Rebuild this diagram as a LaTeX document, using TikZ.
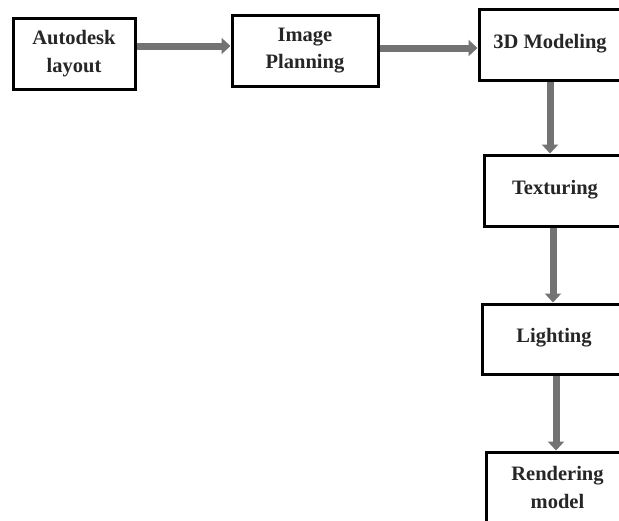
\documentclass[tikz,border=0pt]{standalone}
\usepackage{fontspec}
\setmainfont{Liberation Serif}
\usepackage{tikz}
\usetikzlibrary{arrows.meta,positioning}

\begin{document}
\begin{tikzpicture}[x=1pt,y=-1pt,
                    stage/.style={draw=black, line width=3pt, fill=white, inner sep=0pt,
                                  minimum height=71pt, align=center,
                                  font=\fontsize{20.5}{27.5}\selectfont\bfseries, text=black!85},
                    flow/.style={line width=7pt, draw=black!55,
                                 -{Triangle[length=9pt,width=16pt,fill=black!55]}},
                   ]

\clip (0,0) rectangle (619,520);
\fill[white] (0,0) rectangle (619,520);

% top row
\node[stage, minimum width=122pt] (autodesk) at (74,53.5) {Autodesk\\layout};
\node[stage, minimum width=146pt] (planning) at (305,50.5) {Image\\Planning};
\node[stage, minimum width=142pt] (modeling) at (550,44.5) {\raisebox{7pt}{3D Modeling}};

% right column
\node[stage, minimum width=142pt] (texturing) at (555,190.5) {\raisebox{7pt}{Texturing}};
\node[stage, minimum width=144pt, minimum height=70pt] (lighting) at (554,339) {\raisebox{7pt}{Lighting}};
\node[stage, minimum width=143pt] (rendering) at (557.5,487.5) {Rendering\\model};

\draw[flow] ([yshift=7.5pt]autodesk.east) -- ([yshift=7.5pt]autodesk.east -| planning.west);
\draw[flow] ([yshift=2.5pt]planning.east) -- ([yshift=2.5pt]planning.east -| modeling.west);
\draw[flow] (modeling.south) -- (modeling.south |- texturing.north);
\draw[flow] ([xshift=-2pt]texturing.south) -- ([xshift=-2pt]texturing.south |- lighting.north);
\draw[flow] ([xshift=2pt]lighting.south) -- ([xshift=2pt]lighting.south |- rendering.north);

\end{tikzpicture}
\end{document}
